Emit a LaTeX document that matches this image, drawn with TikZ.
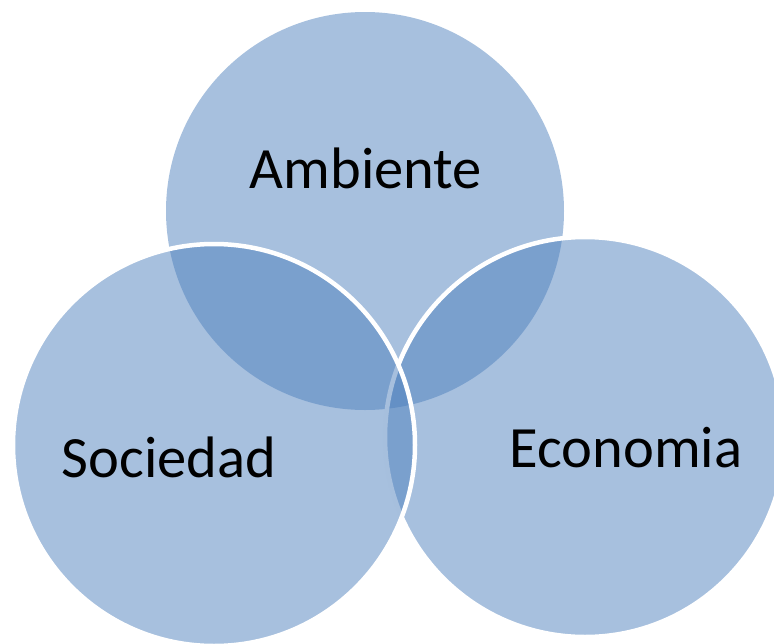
\documentclass[tikz,border=0pt]{standalone}
\usepackage{fontspec}
\setmainfont{Carlito}
\definecolor{vblue}{HTML}{4F81BD}
\begin{document}
\begin{tikzpicture}[x=1pt,y=-1pt,
  venn/.style={circle, inner sep=0pt, outer sep=0pt, fill=vblue, fill opacity=0.5},
  vennw/.style={venn, draw=white, draw opacity=1, line width=4.5pt},
  lbl/.style={font=\fontsize{58.5}{70}\selectfont, text=black, anchor=base}]
\useasboundingbox (0,0) rectangle (774,643);
\clip (0,0) rectangle (774,643);
\node[venn, minimum size=398pt] (amb) at (365,211) {};
\node[vennw, minimum size=400pt] (eco) at (585,437) {};
\node[vennw, minimum size=402pt] (soc) at (214,445) {};
\node[lbl] (tamb) at (366,188) {Ambiente};
\node[lbl] (tsoc) at (169,477) {Sociedad};
\node[lbl] (teco) at (626,467) {Economia};
\end{tikzpicture}
\end{document}
